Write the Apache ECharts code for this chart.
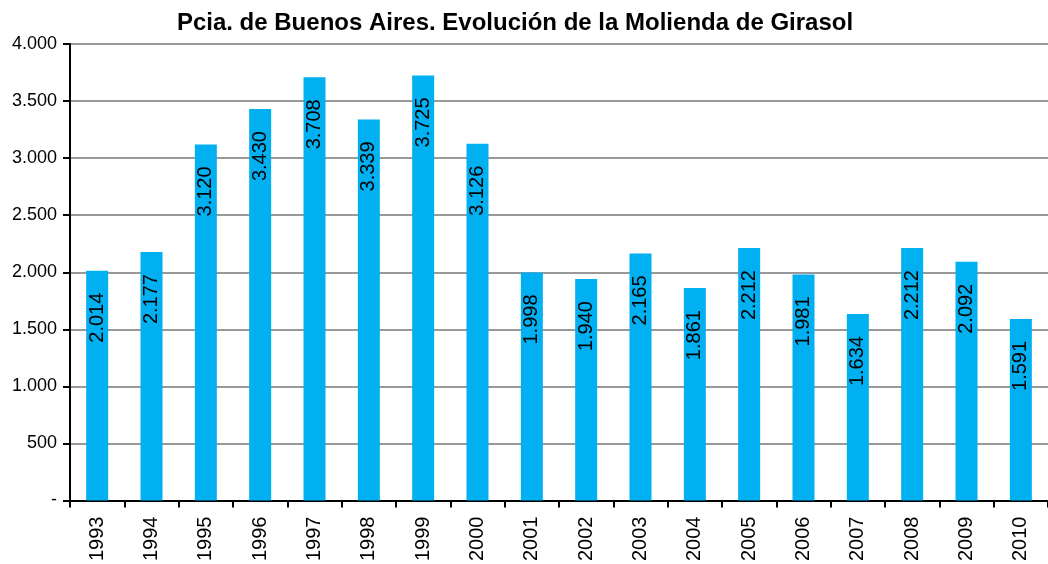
<!DOCTYPE html>
<html>
<head>
<meta charset="utf-8">
<script src="https://cdn.jsdelivr.net/npm/echarts@6/dist/echarts.min.js"></script>
<style>
  html, body { margin: 0; padding: 0; background: #fff; }
  #chart { width: 1048px; height: 564px; }
</style>
</head>
<body>
<div id="chart"></div>
<script>
// años
var years = ['1993', '1994', '1995', '1996', '1997', '1998', '1999', '2000', '2001',
  '2002', '2003', '2004', '2005', '2006', '2007', '2008', '2009', '2010'];
// molienda (miles de t)
var molienda = [2014, 2177, 3120, 3430, 3708, 3339, 3725, 3126, 1998,
  1940, 2165, 1861, 2212, 1981, 1634, 2212, 2092, 1591];
var yTicks = [0, 500, 1000, 1500, 2000, 2500, 3000, 3500, 4000];

// separador de miles con punto
function fmt(v) {
  if (v === 0) return '-';
  return String(v).replace(/\B(?=(\d{3})+(?!\d))/g, '.');
}

var chart = echarts.init(document.getElementById('chart'));
var option = {
  animation: false,
  title: {
    text: 'Pcia. de Buenos Aires. Evolución de la Molienda de Girasol',
    left: 510,
    textAlign: 'center',
    top: 6,
    textStyle: {
      fontFamily: 'Liberation Sans, Arial, sans-serif',
      fontWeight: 'bold',
      fontSize: 24,
      color: '#000'
    }
  },
  grid: {
    left: 70,
    right: -3,
    top: 44,
    bottom: 63
  },
  xAxis: {
    type: 'category',
    data: years,
    axisLine: { lineStyle: { color: '#000', width: 2 } },
    axisTick: { show: true, length: 7, lineStyle: { color: '#000', width: 2 } },
    axisLabel: {
      rotate: 90,
      margin: 16,
      color: '#000',
      fontSize: 20,
      fontFamily: 'Liberation Sans, Arial, sans-serif'
    }
  },
  yAxis: {
    type: 'value',
    min: yTicks[0],
    max: yTicks[yTicks.length - 1],
    interval: 500,
    axisLine: { show: true, lineStyle: { color: '#000', width: 2 } },
    axisTick: { show: true, inside: false, length: 7, lineStyle: { color: '#000', width: 2 } },
    axisLabel: {
      margin: 13,
      color: '#000',
      fontSize: 18,
      fontFamily: 'Liberation Sans, Arial, sans-serif',
      formatter: fmt
    },
    splitLine: { show: true, lineStyle: { color: '#999', width: 2 } }
  },
  series: [
    {
      type: 'bar',
      data: molienda,
      barWidth: 22,
      itemStyle: { color: '#00B0F0' },
      label: {
        show: true,
        position: 'insideTop',
        rotate: 90,
        align: 'right',
        verticalAlign: 'middle',
        distance: 22,
        color: '#000',
        fontSize: 20,
        fontFamily: 'Liberation Sans, Arial, sans-serif',
        formatter: function (p) { return fmt(p.value); }
      }
    }
  ]
};
chart.setOption(option);
</script>
</body>
</html>
